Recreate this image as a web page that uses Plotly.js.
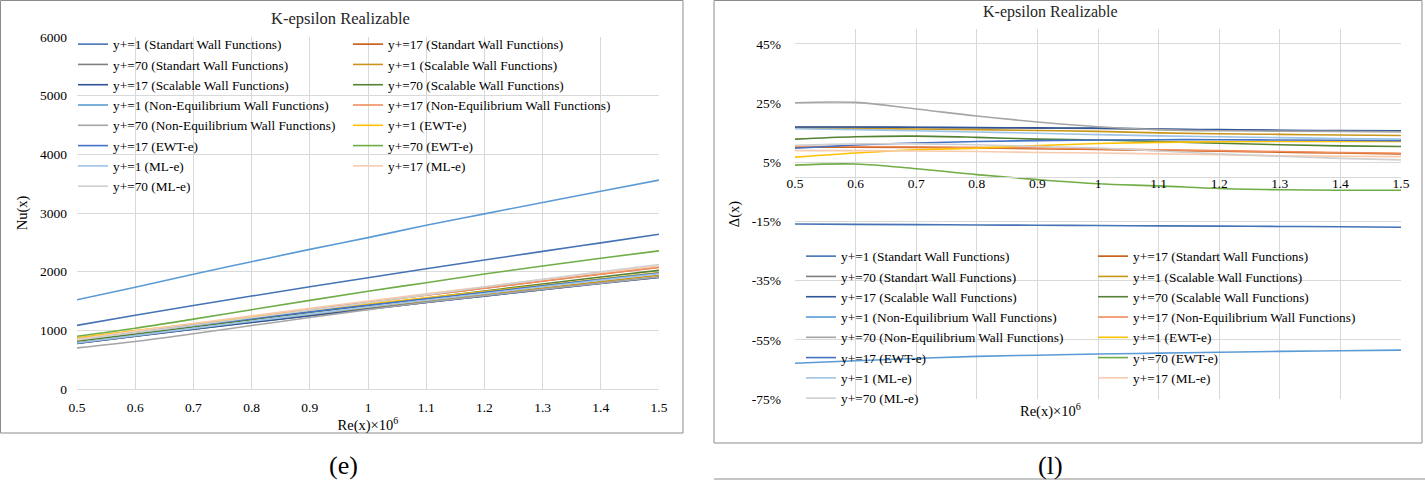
<!DOCTYPE html>
<html><head><meta charset="utf-8">
<script src="https://cdn.plot.ly/plotly-3.0.1.min.js"></script>
<style>html,body{margin:0;padding:0;background:#fff}#chart{width:1425px;height:481px}</style>
</head><body><div id="chart"></div>
<script>
// ---------- data ----------
const reX = [0.5, 0.6, 0.7, 0.8, 0.9, 1.0, 1.1, 1.2, 1.3, 1.4, 1.5];
const xTickLabels = ['0.5','0.6','0.7','0.8','0.9','1','1.1','1.2','1.3','1.4','1.5'];
const nuTickVals = [0, 1000, 2000, 3000, 4000, 5000, 6000];
const deltaTickVals = [-75, -55, -35, -15, 5, 25, 45];
const deltaTickLabels = ['-75%', '-55%', '-35%', '-15%', '5%', '25%', '45%'];

const seriesNames = [
  'y+=1 (Standart Wall Functions)', 'y+=17 (Standart Wall Functions)',
  'y+=70 (Standart Wall Functions)', 'y+=1 (Scalable Wall Functions)',
  'y+=17 (Scalable Wall Functions)', 'y+=70 (Scalable Wall Functions)',
  'y+=1 (Non-Equilibrium Wall Functions)', 'y+=17 (Non-Equilibrium Wall Functions)',
  'y+=70 (Non-Equilibrium Wall Functions)', 'y+=1 (EWT-e)',
  'y+=17 (EWT-e)', 'y+=70 (EWT-e)',
  'y+=1 (ML-e)', 'y+=17 (ML-e)', 'y+=70 (ML-e)'
];
const seriesColors = [
  '#4673B5', '#C55A11', '#7F7F7F', '#C9961A', '#2F5597', '#548235',
  '#5B9BD5', '#F08D5E', '#A5A5A5', '#FFC000', '#4472C4', '#70AD47',
  '#9DC3E6', '#F8CBAD', '#D0D0D0'
];

// Nu(x) — chart (e)
const nuStd1   = [1085, 1256, 1422, 1584, 1742, 1897, 2049, 2198, 2346, 2491, 2637];
const nuStd17  = [841, 974, 1103, 1229, 1354, 1478, 1601, 1721, 1841, 1960, 2078];
const nuStd70  = [779, 901, 1020, 1137, 1251, 1363, 1476, 1585, 1694, 1802, 1907];
const nuScal1  = [782, 905, 1027, 1145, 1263, 1379, 1497, 1610, 1721, 1830, 1938];
const nuScal17 = [778, 900, 1019, 1135, 1249, 1361, 1474, 1583, 1692, 1798, 1902];
const nuScal70 = [816, 936, 1056, 1180, 1306, 1426, 1548, 1670, 1791, 1909, 2022];
const nuNeq1   = [1520, 1735, 1955, 2170, 2380, 2580, 2790, 2985, 3180, 3370, 3560];
const nuNeq17  = [840, 971, 1100, 1227, 1351, 1475, 1597, 1717, 1837, 1956, 2074];
const nuNeq70  = [701, 810, 943, 1082, 1219, 1353, 1478, 1591, 1698, 1805, 1909];
const nuEwt1   = [873, 995, 1112, 1230, 1339, 1446, 1553, 1661, 1769, 1877, 1984];
const nuEwt17  = [845, 966, 1084, 1199, 1314, 1426, 1537, 1647, 1759, 1869, 1977];
const nuEwt70  = [899, 1035, 1191, 1352, 1511, 1667, 1812, 1959, 2096, 2229, 2355];
const nuMl1    = [783, 910, 1034, 1156, 1276, 1397, 1514, 1629, 1743, 1856, 1965];
const nuMl17   = [853, 987, 1117, 1246, 1374, 1498, 1622, 1744, 1865, 1984, 2098];
const nuMl70   = [836, 962, 1088, 1214, 1344, 1470, 1604, 1738, 1869, 1999, 2123];

// Δ(x) in % — chart (l)
const dStd1   = [-15.9, -16.0, -16.1, -16.2, -16.3, -16.4, -16.5, -16.6, -16.7, -16.8, -17.0];
const dStd17  = [10.1, 10.1, 10.0, 9.8, 9.6, 9.3, 9.0, 8.7, 8.4, 8.1, 7.8];
const dStd70  = [16.8, 16.8, 16.7, 16.6, 16.5, 16.4, 16.1, 15.9, 15.7, 15.5, 15.4];
const dScal1  = [16.5, 16.4, 16.2, 16.0, 15.7, 15.4, 14.9, 14.6, 14.4, 14.2, 14.0];
const dScal17 = [16.9, 16.9, 16.8, 16.7, 16.6, 16.5, 16.2, 16.0, 15.8, 15.7, 15.6];
const dScal70 = [12.8, 13.6, 13.8, 13.4, 12.8, 12.5, 12.0, 11.4, 10.9, 10.5, 10.3];
const dNeq1   = [-62.9, -62.1, -61.3, -60.6, -60.2, -59.8, -59.5, -59.2, -58.9, -58.7, -58.5];
const dNeq17  = [10.3, 10.3, 10.2, 10.0, 9.8, 9.5, 9.2, 8.9, 8.6, 8.3, 8.0];
const dNeq70  = [25.1, 25.2, 23.0, 20.6, 18.6, 17.0, 16.0, 15.6, 15.5, 15.4, 15.3];
const dEwt1   = [6.7, 8.1, 9.2, 9.75, 10.6, 11.3, 11.7, 11.9, 12.0, 12.0, 12.0];
const dEwt17  = [9.7, 10.8, 11.5, 12.0, 12.3, 12.5, 12.6, 12.6, 12.5, 12.4, 12.3];
const dEwt70  = [4.0, 4.4, 2.8, 0.8, -0.9, -2.3, -3.0, -3.9, -4.3, -4.5, -4.5];
const dMl1    = [16.3, 16.0, 15.6, 15.2, 14.8, 14.3, 13.9, 13.6, 13.3, 13.0, 12.8];
const dMl17   = [8.9, 8.9, 8.8, 8.6, 8.3, 8.1, 7.8, 7.5, 7.2, 7.0, 6.9];
const dMl70   = [10.7, 11.2, 11.2, 10.9, 10.3, 9.8, 8.8, 7.8, 7.0, 6.3, 5.8];

const nuSeries = [nuStd1, nuStd17, nuStd70, nuScal1, nuScal17, nuScal70, nuNeq1, nuNeq17,
                  nuNeq70, nuEwt1, nuEwt17, nuEwt70, nuMl1, nuMl17, nuMl70];
const deltaSeries = [dStd1, dStd17, dStd70, dScal1, dScal17, dScal70, dNeq1, dNeq17,
                     dNeq70, dEwt1, dEwt17, dEwt70, dMl1, dMl17, dMl70];

// ---------- layout helpers ----------
const W = 1425, H = 481;
const px = v => v / W;
const py = v => 1 - v / H;
const FONT = "'Liberation Serif', 'Times New Roman', serif";
const GRID = '#D9D9D9';

const traces = [];
nuSeries.forEach((ys, i) => {
  traces.push({
    type: 'scatter', mode: 'lines', x: reX, y: ys, name: seriesNames[i],
    xaxis: 'x', yaxis: 'y', legend: i % 2 === 0 ? 'legend' : 'legend2',
    line: {color: seriesColors[i], width: 1.6, shape: 'spline', smoothing: 1},
    hoverinfo: 'skip'
  });
});
deltaSeries.forEach((ys, i) => {
  traces.push({
    type: 'scatter', mode: 'lines', x: reX, y: ys, name: seriesNames[i],
    xaxis: 'x2', yaxis: 'y2', legend: i % 2 === 0 ? 'legend3' : 'legend4',
    line: {color: seriesColors[i], width: 1.6, shape: 'spline', smoothing: 1},
    hoverinfo: 'skip'
  });
});

const y2Domain = [py(399), py(29)];
const y2Range = [-75, 50];
const zeroPos = y2Domain[0] + (0 - y2Range[0]) / (y2Range[1] - y2Range[0]) * (y2Domain[1] - y2Domain[0]);

const tickFont = {family: FONT, size: 13.5, color: '#000'};
const axTitleFont = {family: FONT, size: 14.5, color: '#000'};
const legFont = {family: FONT, size: 13.3, color: '#000'};
const legendBase = {
  xanchor: 'left', yanchor: 'top', bgcolor: 'rgba(0,0,0,0)', borderwidth: 0,
  traceorder: 'normal', itemwidth: 30, orientation: 'v', font: legFont
};

const layout = {
  width: W, height: H,
  margin: {l: 0, r: 0, t: 0, b: 0, pad: 0},
  paper_bgcolor: '#fff', plot_bgcolor: 'rgba(0,0,0,0)',
  font: {family: FONT, size: 13, color: '#000'},
  showlegend: true,
  xaxis: {
    domain: [px(77), px(659)], range: [0.5, 1.5], anchor: 'y',
    tickvals: reX, ticktext: xTickLabels, tickfont: tickFont,
    showgrid: true, gridcolor: GRID, gridwidth: 1, zeroline: false,
    showline: true, linecolor: GRID, linewidth: 1, ticks: '', ticklabelstandoff: 6,
    title: {text: 'Re(x)×10<sup>6</sup>', standoff: 0, font: axTitleFont},
    fixedrange: true, automargin: false
  },
  yaxis: {
    domain: [py(389), py(37)], range: [0, 6000], anchor: 'x',
    tickvals: nuTickVals, tickfont: tickFont,
    showgrid: true, gridcolor: GRID, gridwidth: 1, zeroline: false,
    showline: false, ticks: '', ticklabelstandoff: 9,
    title: {text: 'Nu(x)', standoff: 8, font: axTitleFont},
    fixedrange: true, automargin: false
  },
  xaxis2: {
    domain: [px(795), px(1401)], range: [0.5, 1.5], anchor: 'free', position: zeroPos,
    tickvals: reX, ticktext: xTickLabels, tickfont: tickFont,
    showgrid: true, gridcolor: GRID, gridwidth: 1, zeroline: false,
    showline: true, linecolor: GRID, linewidth: 1, ticks: '', ticklabelstandoff: -6,
    fixedrange: true, automargin: false
  },
  yaxis2: {
    domain: y2Domain, range: y2Range, anchor: 'x2',
    tickvals: deltaTickVals, ticktext: deltaTickLabels, tickfont: tickFont,
    showgrid: true, gridcolor: GRID, gridwidth: 1, zeroline: false,
    showline: false, ticks: '', ticklabelstandoff: 13,
    title: {text: 'Δ(x)', standoff: 8, font: axTitleFont},
    fixedrange: true, automargin: false
  },
  legend: Object.assign({}, legendBase, {x: px(73), y: py(29)}),
  legend2: Object.assign({}, legendBase, {x: px(348), y: py(29)}),
  legend3: Object.assign({}, legendBase, {x: px(801), y: py(241)}),
  legend4: Object.assign({}, legendBase, {x: px(1093), y: py(241)}),
  annotations: [
    {text: 'K-epsilon Realizable', xref: 'paper', yref: 'paper', x: px(340), y: py(18),
     xanchor: 'center', yanchor: 'middle', showarrow: false, font: {family: FONT, size: 16.5, color: '#262626'}},
    {text: 'K-epsilon Realizable', xref: 'paper', yref: 'paper', x: px(1050), y: py(12),
     xanchor: 'center', yanchor: 'middle', showarrow: false, font: {family: FONT, size: 16, color: '#262626'}},
    {text: 'Re(x)×10<sup>6</sup>', xref: 'paper', yref: 'paper', x: px(1050), y: py(410),
     xanchor: 'center', yanchor: 'middle', showarrow: false, font: axTitleFont},
    {text: '(e)', xref: 'paper', yref: 'paper', x: px(343), y: py(465),
     xanchor: 'center', yanchor: 'middle', showarrow: false, font: {family: FONT, size: 26, color: '#000'}},
    {text: '(l)', xref: 'paper', yref: 'paper', x: px(1050), y: py(465),
     xanchor: 'center', yanchor: 'middle', showarrow: false, font: {family: FONT, size: 26, color: '#000'}}
  ],
  shapes: [
    {type: 'rect', xref: 'paper', yref: 'paper', x0: px(0.5), x1: px(683), y0: py(433), y1: py(0.5),
     line: {color: '#8C8C8C', width: 1}, layer: 'below'},
    {type: 'rect', xref: 'paper', yref: 'paper', x0: px(714), x1: px(1422), y0: py(443), y1: py(0.5),
     line: {color: '#8C8C8C', width: 1}, layer: 'below'},
    {type: 'line', xref: 'paper', yref: 'paper', x0: px(714), x1: px(1425), y0: py(479), y1: py(479),
     line: {color: '#8C8C8C', width: 1}}
  ]
};

Plotly.newPlot('chart', traces, layout, {staticPlot: true, displayModeBar: false});
</script>
</body></html>
